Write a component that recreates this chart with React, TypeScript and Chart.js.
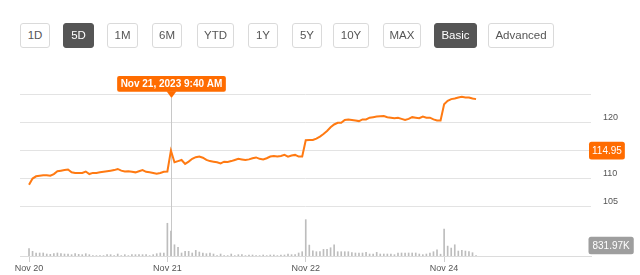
import React, { useEffect, useRef } from 'react';
import { Chart, registerables } from 'chart.js';

Chart.register(...registerables);

// ---------- data ----------
const rangeButtons = ['1D', '5D', '1M', '6M', 'YTD', '1Y', '5Y', '10Y', 'MAX', 'Basic', 'Advanced'];
const activeButtons = ['5D', 'Basic'];

const dayLabels = ['Nov 20', 'Nov 21', 'Nov 22', 'Nov 24'];
const dayFullDates = ['Nov 20, 2023', 'Nov 21, 2023', 'Nov 22, 2023', 'Nov 24, 2023'];
const dayStartIndex = [0, 39, 78, 117];
const intervalMinutes = 10;

const pricesNov20 = [108.9, 110.0, 110.4, 110.5, 110.6, 110.6, 110.5, 110.8, 111.3, 111.4, 111.5, 111.6, 111.1, 111.0, 111.0, 111.0, 111.25, 110.8, 111.0, 111.0, 111.1, 111.2, 111.3, 111.4, 111.5, 111.7, 111.4, 111.25, 111.3, 111.2, 111.1, 111.3, 111.5, 111.2, 111.1, 111.0, 110.85, 111.0, 111.2];
const pricesNov21 = [111.25, 114.95, 112.9, 113.1, 113.3, 112.6, 113.0, 113.5, 113.8, 113.9, 113.7, 113.3, 113.1, 113.0, 112.9, 112.7, 113.0, 112.95, 113.1, 113.3, 113.5, 113.4, 113.3, 113.4, 113.6, 113.75, 113.5, 113.4, 113.6, 113.9, 114.0, 113.9, 114.0, 114.2, 113.9, 114.1, 114.2, 113.9, 113.9];
const pricesNov22 = [116.8, 116.85, 116.85, 117.1, 117.45, 117.9, 118.45, 119.1, 119.6, 119.9, 119.9, 120.4, 120.5, 120.4, 120.3, 120.2, 120.5, 120.5, 120.8, 120.9, 121.0, 121.05, 121.1, 120.9, 120.8, 120.7, 120.8, 120.6, 120.4, 120.6, 120.9, 120.8, 120.7, 121.0, 120.8, 120.8, 120.5, 120.3, 120.3];
const pricesNov24 = [123.2, 123.8, 124.1, 124.2, 124.4, 124.5, 124.4, 124.4, 124.2, 124.1];

// volumes in thousands
const volumesNov20 = [244, 155, 100, 100, 100, 66, 55, 77, 100, 77, 66, 66, 44, 77, 55, 44, 77, 44, 12, 12, 12, 12, 44, 44, 12, 66, 12, 44, 12, 44, 44, 44, 44, 44, 12, 44, 77, 100, 100];
const volumesNov21 = [1090, 831.97, 374, 286, 100, 155, 155, 100, 187, 132, 100, 77, 100, 66, 12, 66, 12, 12, 66, 12, 44, 44, 12, 33, 33, 12, 12, 33, 12, 33, 33, 12, 33, 33, 66, 44, 44, 100, 143];
const volumesNov22 = [1210, 363, 176, 143, 143, 220, 220, 275, 374, 143, 143, 143, 143, 110, 100, 100, 100, 121, 66, 66, 121, 66, 66, 66, 66, 44, 100, 100, 100, 100, 100, 100, 66, 44, 66, 100, 143, 209, 60];
const volumesNov24 = [900, 330, 264, 374, 165, 187, 165, 143, 110, 12];

const priceTickValues = [105, 110, 115, 120, 125];
const hiddenPriceLabels = [125];
const hoverIndex = 40;

const prices = [...pricesNov20, ...pricesNov21, ...pricesNov22, ...pricesNov24];
const volumes = [...volumesNov20, ...volumesNov21, ...volumesNov22, ...volumesNov24];

// ---------- layout / style ----------
const FONT = '"Liberation Sans", Arial, Helvetica, sans-serif';
const ORANGE_LINE = '#ff7a12';
const ORANGE_BADGE = '#ff6c00';
const buttonGeometry = [
  [20, 30], [63, 31], [107, 31], [152, 30], [197, 37], [248, 30], [292, 30], [333, 36], [383, 38], [434, 43], [488, 66],
];

function hoverLabel(idx: number): string {
  let day = 0;
  for (let d = 0; d < dayStartIndex.length; d++) if (idx >= dayStartIndex[d]) day = d;
  const mins = 9 * 60 + 30 + (idx - dayStartIndex[day]) * intervalMinutes;
  let h = Math.floor(mins / 60);
  const m = mins % 60;
  const ampm = h >= 12 ? 'PM' : 'AM';
  if (h > 12) h -= 12;
  return `${dayFullDates[day]} ${h}:${String(m).padStart(2, '0')} ${ampm}`;
}

function roundRectPath(ctx: CanvasRenderingContext2D, x: number, y: number, w: number, h: number, r: number) {
  ctx.beginPath();
  ctx.moveTo(x + r, y);
  ctx.lineTo(x + w - r, y);
  ctx.quadraticCurveTo(x + w, y, x + w, y + r);
  ctx.lineTo(x + w, y + h - r);
  ctx.quadraticCurveTo(x + w, y + h, x + w - r, y + h);
  ctx.lineTo(x + r, y + h);
  ctx.quadraticCurveTo(x, y + h, x, y + h - r);
  ctx.lineTo(x, y + r);
  ctx.quadraticCurveTo(x, y, x + r, y);
  ctx.closePath();
}

const overlayPlugin = {
  id: 'overlay',
  beforeDatasetsDraw(chart: any) {
    const { ctx, chartArea, scales } = chart;
    const x = Math.round(scales.x.getPixelForValue(hoverIndex)) + 0.5;
    ctx.save();
    ctx.strokeStyle = '#c8c8c8';
    ctx.lineWidth = 1;
    ctx.beginPath();
    ctx.moveTo(x, chartArea.top + 12);
    ctx.lineTo(x, chartArea.bottom);
    ctx.stroke();
    ctx.restore();
  },
  afterDraw(chart: any) {
    const { ctx, chartArea, scales } = chart;
    const x = Math.round(scales.x.getPixelForValue(hoverIndex)) + 0.5;
    ctx.save();
    // tooltip
    const label = hoverLabel(hoverIndex);
    ctx.font = `bold 10px ${FONT}`;
    const tw = ctx.measureText(label).width;
    const bw = tw + 7;
    const bh = 15.7;
    const btop = chartArea.top - 10;
    ctx.fillStyle = ORANGE_BADGE;
    roundRectPath(ctx, x - bw / 2, btop, bw, bh, 2);
    ctx.fill();
    ctx.beginPath();
    ctx.moveTo(x - 5, btop + bh - 0.5);
    ctx.lineTo(x + 5, btop + bh - 0.5);
    ctx.lineTo(x, chartArea.top + 12);
    ctx.closePath();
    ctx.fill();
    ctx.fillStyle = '#ffffff';
    ctx.textAlign = 'center';
    ctx.textBaseline = 'middle';
    ctx.fillText(label, x, btop + bh / 2 + 0.5);

    // price badge
    const pv = prices[hoverIndex];
    const py = scales.y.getPixelForValue(pv);
    ctx.font = `10px ${FONT}`;
    const ptxt = pv.toFixed(2);
    const pw = ctx.measureText(ptxt).width + 6;
    const left = chartArea.right - 2;
    ctx.fillStyle = ORANGE_BADGE;
    roundRectPath(ctx, left, py - 8.8, pw, 17.6, 2.5);
    ctx.fill();
    ctx.fillStyle = '#ffffff';
    ctx.fillText(ptxt, left + pw / 2, py + 0.5);

    // volume badge
    const vtxt = volumes[hoverIndex].toFixed(2) + 'K';
    const vw = ctx.measureText(vtxt).width + 8;
    const vy = chartArea.bottom - 10.5;
    ctx.fillStyle = '#9e9e9e';
    roundRectPath(ctx, left - 0.5, vy - 8.8, vw, 17.6, 2.5);
    ctx.fill();
    ctx.fillStyle = '#ffffff';
    ctx.fillText(vtxt, left - 0.5 + vw / 2, vy + 0.5);
    ctx.restore();
  },
};

function PriceChart() {
  const ref = useRef<HTMLCanvasElement | null>(null);
  useEffect(() => {
    if (!ref.current) return;
    const chart = new Chart(ref.current, {
      type: 'line',
      data: {
        datasets: [
          {
            type: 'line',
            label: 'Price',
            data: prices.map((v, i) => ({ x: i, y: v })),
            xAxisID: 'x',
            yAxisID: 'y',
            borderColor: ORANGE_LINE,
            borderWidth: 2,
            pointRadius: 0,
            tension: 0,
            fill: false,
            order: 0,
          } as any,
          {
            type: 'bar',
            label: 'Volume',
            data: volumes.map((v, i) => ({ x: i, y: v })),
            xAxisID: 'x',
            yAxisID: 'y2',
            backgroundColor: '#bdbdbd',
            barThickness: 1,
            order: 1,
          } as any,
        ],
      },
      options: {
        responsive: false,
        maintainAspectRatio: false,
        animation: false,
        layout: { padding: { left: 20, top: 86, right: 0, bottom: 0 } },
        plugins: { legend: { display: false }, tooltip: { enabled: false } },
        scales: {
          x: {
            type: 'linear',
            min: -2.54,
            max: 158.4,
            offset: false,
            afterBuildTicks: (s: any) => {
              s.ticks = dayStartIndex.map((v) => ({ value: v }));
            },
            afterFit: (s: any) => {
              s.height = 19;
            },
            grid: { display: true, offset: false, drawOnChartArea: false, drawTicks: true, tickLength: 6, color: '#cfcfcf' },
            border: { display: true, color: '#dcdcdc' },
            ticks: {
              autoSkip: false,
              maxRotation: 0,
              minRotation: 0,
              padding: 1,
              color: '#555',
              font: { size: 9, family: FONT },
              callback: (v: any) => {
                const i = dayStartIndex.indexOf(Number(v));
                return i >= 0 ? dayLabels[i] : '';
              },
            },
          },
          y: {
            position: 'right',
            min: 96.25,
            max: 126.43,
            afterBuildTicks: (s: any) => {
              s.ticks = priceTickValues.map((v) => ({ value: v }));
            },
            afterFit: (s: any) => {
              s.width = 49;
            },
            grid: { color: '#e3e3e3', drawTicks: false },
            border: { display: false },
            ticks: {
              padding: 12,
              labelOffset: -5,
              color: '#555',
              font: { size: 9, family: FONT },
              callback: (v: any) => (hiddenPriceLabels.includes(Number(v)) ? '' : String(v)),
            },
          },
          y2: { display: false, min: 0, max: 5660 },
        },
      } as any,
      plugins: [overlayPlugin],
    });
    return () => chart.destroy();
  }, []);
  return <canvas ref={ref} width={640} height={275} style={{ position: 'absolute', left: 0, top: 0, width: 640, height: 275 }} />;
}

export default function App() {
  return (
    <div style={{ position: 'fixed', left: 0, top: 0, width: 640, height: 275, background: '#fff', overflow: 'hidden', fontFamily: FONT }}>
      <PriceChart />
      {rangeButtons.map((b, i) => {
        const active = activeButtons.includes(b);
        const [l, w] = buttonGeometry[i];
        return (
          <div
            key={b}
            style={{
              position: 'absolute',
              left: l,
              top: 23,
              width: w,
              height: 25,
              boxSizing: 'border-box',
              border: `1px solid ${active ? '#555' : '#dadada'}`,
              borderRadius: 3,
              background: active ? '#555' : '#fff',
              color: active ? '#fff' : '#555',
              fontSize: 11.5,
              lineHeight: '23px',
              textAlign: 'center',
              whiteSpace: 'nowrap',
            }}
          >
            {b}
          </div>
        );
      })}
    </div>
  );
}
